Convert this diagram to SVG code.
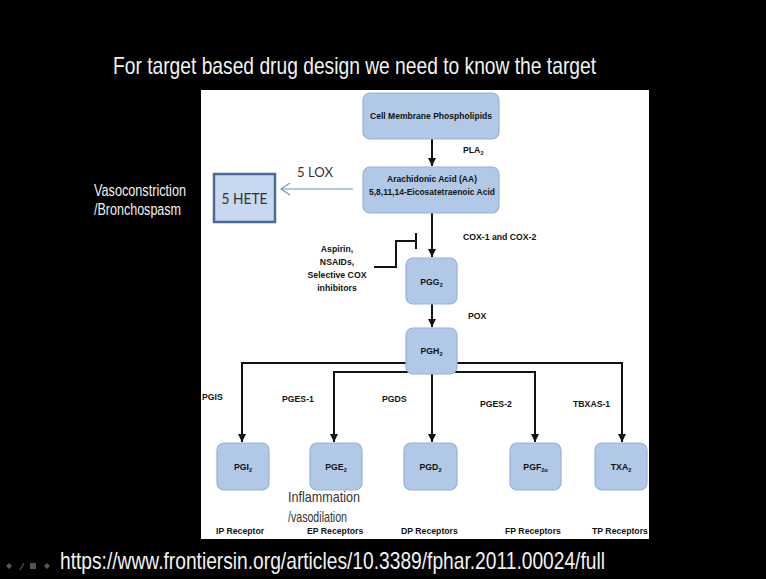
<svg xmlns="http://www.w3.org/2000/svg" width="766" height="579" viewBox="0 0 766 579">
<style>
.box{fill:#b1c9e6;stroke:#93b1d8;stroke-width:1.2}
.bt{font-family:"Liberation Sans",Arial,sans-serif;font-weight:bold;font-size:8.7px;fill:#111}
.sub{font-size:5.5px}
.wt{font-family:"Liberation Sans",Arial,sans-serif;fill:#f2f2f2}
.ln{fill:none;stroke:#111;stroke-width:2}
</style>
<defs>
<marker id="ah" markerWidth="8" markerHeight="8" refX="8" refY="4" orient="auto" markerUnits="userSpaceOnUse">
<path d="M0,0 L8,4 L0,8 Z" fill="#111"/>
</marker>
<marker id="oh" markerWidth="12" markerHeight="14" refX="10" refY="7" orient="auto" markerUnits="userSpaceOnUse">
<path d="M1,1 L10,7 L1,13" fill="none" stroke="#6d91c6" stroke-width="1.1"/>
</marker>
</defs>
<rect x="0" y="0" width="766" height="579" fill="#000"/>
<rect x="201" y="90" width="448" height="449" fill="#fff"/>
<text class="wt" x="113" y="74" font-size="24" textLength="483" lengthAdjust="spacingAndGlyphs">For target based drug design we need to know the target</text>
<text class="wt" x="60" y="569" font-size="24" textLength="545" lengthAdjust="spacingAndGlyphs">https://www.frontiersin.org/articles/10.3389/fphar.2011.00024/full</text>
<g fill="#555">
<path d="M6,566 l3,-3 l3,3 l-3,3 z"/>
<path d="M20,570 l4,-7" stroke="#555" stroke-width="1.2"/>
<rect x="30" y="563" width="6" height="6"/>
<path d="M44,566 l3,-3 l3,3 l-3,3 z"/>
</g>
<text class="wt" x="94" y="196" font-size="16" textLength="92" lengthAdjust="spacingAndGlyphs">Vasoconstriction</text>
<text class="wt" x="94" y="215" font-size="16" textLength="87" lengthAdjust="spacingAndGlyphs">/Bronchospasm</text>

<g id="connectors">
<path class="ln" d="M432,139 V166" marker-end="url(#ah)"/>
<path class="ln" d="M432,213 V257" marker-end="url(#ah)"/>
<path class="ln" d="M432,304 V327" marker-end="url(#ah)"/>
<path class="ln" d="M374,267 H396 V241 H416"/>
<path class="ln" d="M416,233 V249"/>
<path d="M353,189 H281" stroke="#6d91c6" stroke-width="1" fill="none" marker-end="url(#oh)"/>
<path class="ln" d="M406,363 H242 V442" marker-end="url(#ah)"/>
<path class="ln" d="M457,363 H622 V442" marker-end="url(#ah)"/>
<path class="ln" d="M408,372 H334 V442" marker-end="url(#ah)"/>
<path class="ln" d="M455,372 H535 V442" marker-end="url(#ah)"/>
<path class="ln" d="M432,374 V442" marker-end="url(#ah)"/>
</g>

<g id="cmp">
<rect class="box" x="363" y="93" width="136" height="46" rx="7"/>
<text class="bt" x="431" y="119" text-anchor="middle" textLength="122" lengthAdjust="spacingAndGlyphs">Cell Membrane Phospholipids</text>
</g>
<g id="aa">
<rect class="box" x="363" y="167" width="136" height="46" rx="7"/>
<text class="bt" x="432" y="182" text-anchor="middle" textLength="90" lengthAdjust="spacingAndGlyphs">Arachidonic Acid (AA)</text>
<text class="bt" x="432" y="195" text-anchor="middle" textLength="126" lengthAdjust="spacingAndGlyphs">5,8,11,14-Eicosatetraenoic Acid</text>
</g>
<g id="hete">
<rect x="214" y="174" width="61" height="48" fill="#c8d8ee" stroke="#4b6b96" stroke-width="2.5"/>
<text x="244.5" y="204" text-anchor="middle" font-family="Lato,'Open Sans',sans-serif" font-size="15" fill="#333" textLength="46" lengthAdjust="spacingAndGlyphs">5 HETE</text>
</g>
<g id="pgg2">
<rect class="box" x="406" y="258" width="51" height="46" rx="7"/>
<text class="bt" x="431.5" y="285" text-anchor="middle">PGG<tspan class="sub" dy="2">2</tspan></text>
</g>
<g id="pgh2">
<rect class="box" x="406" y="328" width="51" height="46" rx="7"/>
<text class="bt" x="431.5" y="354" text-anchor="middle">PGH<tspan class="sub" dy="2">2</tspan></text>
</g>
<g id="pgi2">
<rect class="box" x="217" y="443" width="52" height="47" rx="7"/>
<text class="bt" x="243" y="470" text-anchor="middle">PGI<tspan class="sub" dy="2">2</tspan></text>
</g>
<g id="pge2">
<rect class="box" x="310" y="443" width="52" height="47" rx="7"/>
<text class="bt" x="336" y="470" text-anchor="middle">PGE<tspan class="sub" dy="2">2</tspan></text>
</g>
<g id="pgd2">
<rect class="box" x="404" y="443" width="53" height="47" rx="7"/>
<text class="bt" x="430.5" y="470" text-anchor="middle">PGD<tspan class="sub" dy="2">2</tspan></text>
</g>
<g id="pgf2a">
<rect class="box" x="510" y="443" width="51" height="47" rx="7"/>
<text class="bt" x="535.5" y="470" text-anchor="middle">PGF<tspan class="sub" dy="2">2α</tspan></text>
</g>
<g id="txa2">
<rect class="box" x="595" y="443" width="52" height="47" rx="7"/>
<text class="bt" x="621" y="470" text-anchor="middle">TXA<tspan class="sub" dy="2">2</tspan></text>
</g>

<g id="labels">
<text class="bt" x="463" y="153">PLA<tspan class="sub" dy="2">2</tspan></text>
<text x="297" y="177" font-family="Lato,'Open Sans',sans-serif" font-size="14" fill="#333" textLength="36" lengthAdjust="spacingAndGlyphs">5 LOX</text>
<text class="bt" x="463" y="240">COX-1 and COX-2</text>
<g class="bt" text-anchor="middle">
<text x="337" y="252">Aspirin,</text>
<text x="337" y="265">NSAIDs,</text>
<text x="337" y="278">Selective COX</text>
<text x="337" y="291">inhibitors</text>
</g>
<text class="bt" x="468" y="319">POX</text>
<text class="bt" x="202" y="400">PGIS</text>
<text class="bt" x="282" y="402">PGES-1</text>
<text class="bt" x="382" y="402">PGDS</text>
<text class="bt" x="480" y="407">PGES-2</text>
<text class="bt" x="573" y="407">TBXAS-1</text>
<text class="bt" x="216" y="534">IP Receptor</text>
<text class="bt" x="307" y="534">EP Receptors</text>
<text class="bt" x="401" y="534">DP Receptors</text>
<text class="bt" x="505" y="534">FP Receptors</text>
<text class="bt" x="592" y="534">TP Receptors</text>
<text x="288" y="502" font-family="'Liberation Sans',Arial,sans-serif" font-size="15" fill="#333" textLength="72" lengthAdjust="spacingAndGlyphs">Inflammation</text>
<text x="288" y="522" font-family="'Liberation Sans',Arial,sans-serif" font-size="15" fill="#333" textLength="59" lengthAdjust="spacingAndGlyphs">/vasodilation</text>
</g>
</svg>
